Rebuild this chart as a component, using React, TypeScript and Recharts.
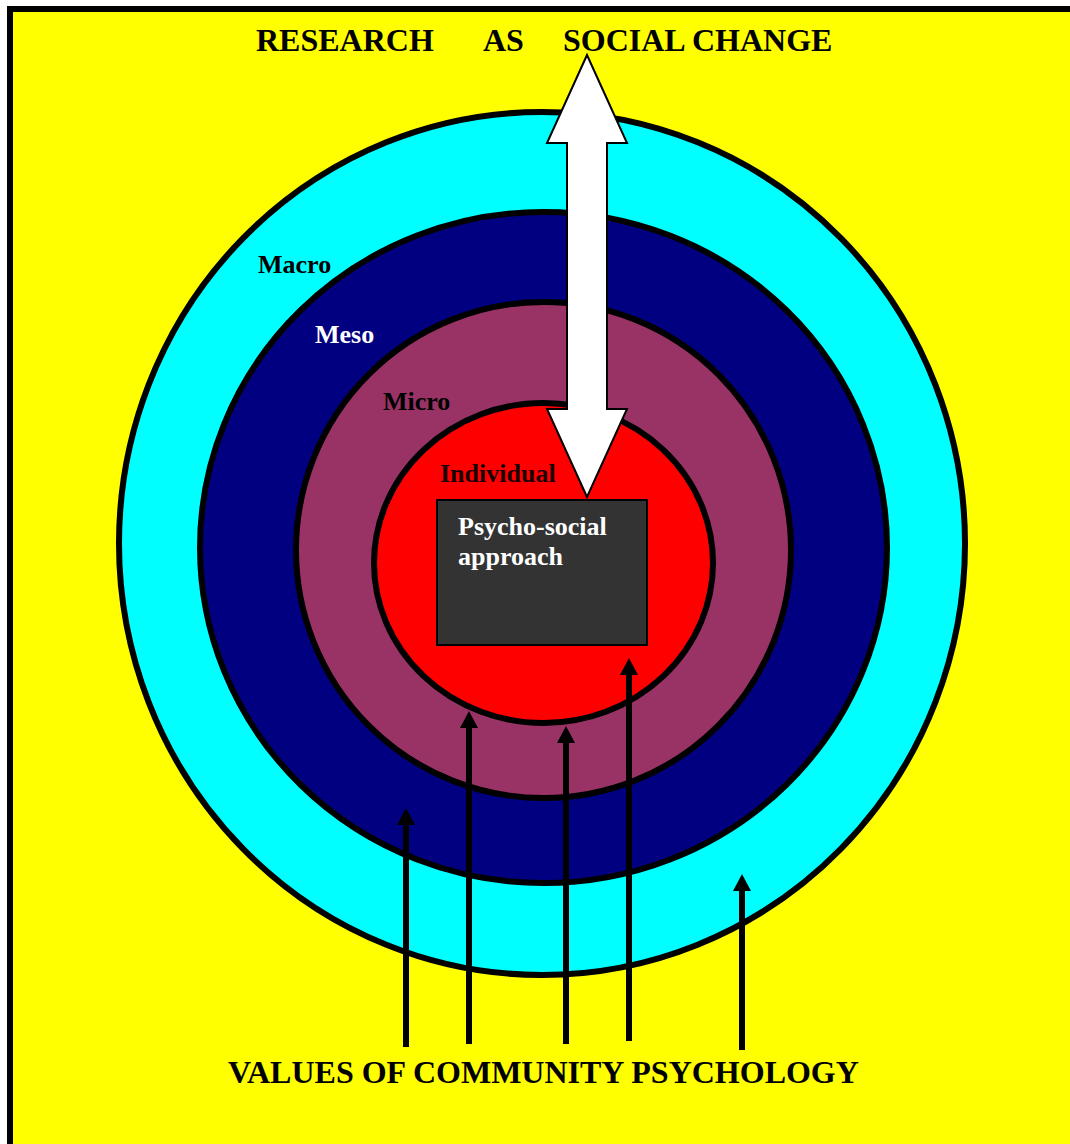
import React from "react";
import {
  ComposedChart,
  XAxis,
  YAxis,
  ReferenceArea,
  ReferenceLine,
  Scatter,
} from "recharts";

const WIDTH = 1070;
const HEIGHT = 1144;

// rings, outer to inner, as extents on the page grid
const levelNames = ["Macro", "Meso", "Micro", "Individual"];
const levelLeft = [119, 200, 296, 374];
const levelRight = [965, 887, 791, 713];
const levelTop = [112, 212, 302, 403];
const levelBottom = [975, 883, 798, 723];
const levelLabelX = [258, 315, 383, 440];
const levelLabelY = [273, 343, 410, 482];

const titleWords = ["RESEARCH", "AS", "SOCIAL CHANGE"];
const titleX = [256, 483, 563];
const titleY = 51;

const footerWords = ["VALUES OF COMMUNITY PSYCHOLOGY"];
const footerX = [228];
const footerY = 1083;

const approachLines = ["Psycho-social", "approach"];
const approachLineY = [535, 565];
const approachTextX = 458;
const approachBoxX = [437, 647];
const approachBoxY = [500, 645];

// research <-> social change arrow
const researchArrowX = 587;
const researchArrowEnds = [55, 497];

// values arrows pushing up from the bottom
const valueArrowX = [406, 469, 566, 629, 742];
const valueArrowTip = [808, 711, 726, 658, 874];
const valueArrowBase = [1047, 1044, 1044, 1041, 1050];

const ringFill = ["#00FFFF", "#000080", "#993366", "#FF0000"];
const labelFill = ["#000000", "#FFFFFF", "#000000", "#1a0000"];
const FONT = '"Liberation Serif", "Times New Roman", serif';

const titleData = titleWords
  .map((text, i) => ({ x: titleX[i], y: titleY, text }))
  .concat(footerWords.map((text, i) => ({ x: footerX[i], y: footerY, text })));

const levelLabelData = levelNames.map((text, i) => ({
  x: levelLabelX[i],
  y: levelLabelY[i],
  text,
  color: labelFill[i],
}));

const approachData = approachLines.map((text, i) => ({
  x: approachTextX,
  y: approachLineY[i],
  text,
}));

const ellipseShape = (fill: string) => (props: any) => {
  const { x, y, width, height } = props;
  return (
    <ellipse
      cx={x + width / 2}
      cy={y + height / 2}
      rx={width / 2}
      ry={height / 2}
      fill={fill}
      stroke="#000"
      strokeWidth={6}
    />
  );
};

function DoubleArrow(props: any) {
  const { x1, y1, y2 } = props;
  const top = Math.min(y1, y2);
  const bottom = Math.max(y1, y2);
  const hl = 88;
  const hw = 40;
  const sw = 20;
  const cx = x1;
  const d = [
    `M${cx},${top}`,
    `L${cx + hw},${top + hl}`,
    `L${cx + sw},${top + hl}`,
    `L${cx + sw},${bottom - hl}`,
    `L${cx + hw},${bottom - hl}`,
    `L${cx},${bottom}`,
    `L${cx - hw},${bottom - hl}`,
    `L${cx - sw},${bottom - hl}`,
    `L${cx - sw},${top + hl}`,
    `L${cx - hw},${top + hl}`,
    "Z",
  ].join(" ");
  return <path d={d} fill="#fff" stroke="#000" strokeWidth={2} />;
}

function UpArrow(props: any) {
  const { x1, y1, y2 } = props;
  const tip = Math.min(y1, y2);
  const base = Math.max(y1, y2);
  const hl = 17;
  const hw = 9;
  return (
    <g>
      <line x1={x1} y1={base} x2={x1} y2={tip + hl - 1} stroke="#000" strokeWidth={6} />
      <polygon
        points={`${x1},${tip} ${x1 - hw},${tip + hl} ${x1 + hw},${tip + hl}`}
        fill="#000"
      />
    </g>
  );
}

const textShape = (size: number, color?: string) => (props: any) => {
  const { cx, cy, payload } = props;
  return (
    <text
      x={cx}
      y={cy}
      fill={color ?? payload.color ?? "#000"}
      fontFamily={FONT}
      fontWeight="bold"
      fontSize={size}
    >
      {payload.text}
    </text>
  );
};

export default function App() {
  return (
    <div
      style={{
        position: "absolute",
        left: 0,
        top: 0,
        width: WIDTH,
        height: HEIGHT,
        background: "#fff",
      }}
    >
      <ComposedChart
        width={WIDTH}
        height={HEIGHT}
        margin={{ top: 0, right: 0, bottom: 0, left: 0 }}
      >
        <XAxis type="number" dataKey="x" domain={[0, WIDTH]} allowDataOverflow hide />
        <YAxis type="number" dataKey="y" domain={[0, HEIGHT]} allowDataOverflow reversed hide />

        <ReferenceArea
          x1={10}
          x2={WIDTH}
          y1={9}
          y2={HEIGHT}
          fill="#FFFF00"
          fillOpacity={1}
          stroke="none"
          zIndex={1}
        />
        <ReferenceLine
          segment={[{ x: 10, y: 6 }, { x: 10, y: HEIGHT }]}
          stroke="#000"
          strokeWidth={6}
          zIndex={2}
        />
        <ReferenceLine
          segment={[{ x: 7, y: 9 }, { x: WIDTH, y: 9 }]}
          stroke="#000"
          strokeWidth={6}
          zIndex={2}
        />

        {levelNames.map((name, i) => (
          <ReferenceArea
            key={name}
            x1={levelLeft[i]}
            x2={levelRight[i]}
            y1={levelTop[i]}
            y2={levelBottom[i]}
            shape={ellipseShape(ringFill[i])}
            zIndex={3 + i}
          />
        ))}

        <ReferenceArea
          x1={approachBoxX[0]}
          x2={approachBoxX[1]}
          y1={approachBoxY[0]}
          y2={approachBoxY[1]}
          fill="#333333"
          fillOpacity={1}
          stroke="#000"
          strokeWidth={2}
          zIndex={8}
        />

        <ReferenceLine
          segment={[
            { x: researchArrowX, y: researchArrowEnds[0] },
            { x: researchArrowX, y: researchArrowEnds[1] },
          ]}
          shape={DoubleArrow}
          zIndex={9}
        />

        {valueArrowX.map((x, i) => (
          <ReferenceLine
            key={`v-${i}`}
            segment={[
              { x, y: valueArrowBase[i] },
              { x, y: valueArrowTip[i] },
            ]}
            shape={UpArrow}
            zIndex={10}
          />
        ))}

        <Scatter
          data={titleData}
          shape={textShape(32, "#000")}
          isAnimationActive={false}
          legendType="none"
          zIndex={11}
        />
        <Scatter
          data={levelLabelData}
          shape={textShape(26)}
          isAnimationActive={false}
          legendType="none"
          zIndex={11}
        />
        <Scatter
          data={approachData}
          shape={textShape(26, "#FFFFFF")}
          isAnimationActive={false}
          legendType="none"
          zIndex={11}
        />
      </ComposedChart>
    </div>
  );
}
